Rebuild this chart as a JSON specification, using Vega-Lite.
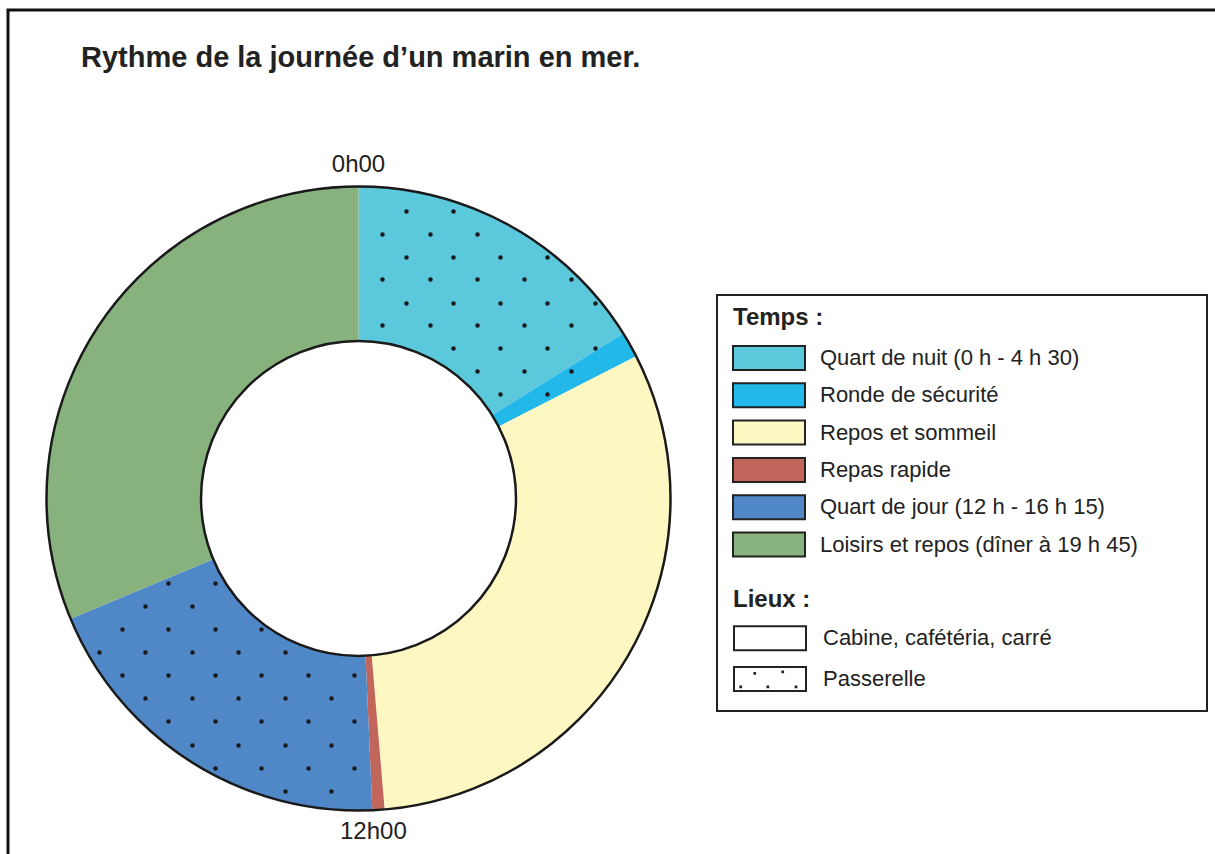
{
  "$schema": "https://vega.github.io/schema/vega-lite/v6.json",
  "width": 1210,
  "height": 847,
  "autosize": {"type": "none"},
  "padding": {"left": 8, "top": 10, "right": -3, "bottom": -3},
  "background": "white",
  "config": {
    "view": {"stroke": "#111111", "strokeWidth": 3},
    "font": "Liberation Sans",
    "legend": {"strokeWidth": 2}
  },
  "title": {
    "text": "Rythme de la journée d’un marin en mer.",
    "anchor": "start",
    "frame": "group",
    "orient": "top",
    "offset": 0,
    "dx": 73,
    "dy": 86,
    "baseline": "alphabetic",
    "font": "Liberation Sans",
    "fontSize": 29,
    "fontWeight": "bold",
    "color": "#222222"
  },
  "datasets": {
    "segments": [
      {"temps": "Quart de nuit (0 h - 4 h 30)", "ordre": 1, "duree": 3.87},
      {"temps": "Ronde de sécurité", "ordre": 2, "duree": 0.32},
      {"temps": "Repos et sommeil", "ordre": 3, "duree": 7.49},
      {"temps": "Repas rapide", "ordre": 4, "duree": 0.15},
      {"temps": "Quart de jour (12 h - 16 h 15)", "ordre": 5, "duree": 4.66},
      {"temps": "Loisirs et repos (dîner à 19 h 45)", "ordre": 6, "duree": 7.51}
    ],
    "lieux": [
      {"lieu": "Cabine, cafétéria, carré"},
      {"lieu": "Passerelle"}
    ],
    "reperes": [
      {"label": "0h00", "heure": 0},
      {"label": "12h00", "heure": 11.83}
    ],
    "points": [
      {"u": 48, "v": 287}, {"u": 95, "v": 287},
      {"u": 24, "v": 264}, {"u": 72, "v": 264}, {"u": 119, "v": 264},
      {"u": 48, "v": 241}, {"u": 95, "v": 241}, {"u": 142, "v": 241}, {"u": 189, "v": 241},
      {"u": 24, "v": 219}, {"u": 72, "v": 219}, {"u": 119, "v": 219}, {"u": 166, "v": 219}, {"u": 213, "v": 219},
      {"u": 48, "v": 195}, {"u": 95, "v": 195}, {"u": 142, "v": 195}, {"u": 189, "v": 195}, {"u": 237, "v": 195},
      {"u": 24, "v": 173}, {"u": 72, "v": 173}, {"u": 119, "v": 173}, {"u": 166, "v": 173}, {"u": 213, "v": 173},
      {"u": 95, "v": 150}, {"u": 142, "v": 150}, {"u": 189, "v": 150}, {"u": 237, "v": 150},
      {"u": 119, "v": 127}, {"u": 166, "v": 127}, {"u": 213, "v": 127},
      {"u": 142, "v": 104}, {"u": 189, "v": 104},
      {"u": -190, "v": -85}, {"u": -143, "v": -85},
      {"u": -213, "v": -108}, {"u": -166, "v": -108},
      {"u": -236, "v": -131}, {"u": -190, "v": -131}, {"u": -143, "v": -131}, {"u": -97, "v": -131},
      {"u": -259, "v": -154}, {"u": -213, "v": -154}, {"u": -166, "v": -154}, {"u": -120, "v": -154}, {"u": -73, "v": -154},
      {"u": -236, "v": -177}, {"u": -190, "v": -177}, {"u": -143, "v": -177}, {"u": -97, "v": -177}, {"u": -50, "v": -177}, {"u": -4, "v": -177},
      {"u": -213, "v": -200}, {"u": -166, "v": -200}, {"u": -120, "v": -200}, {"u": -73, "v": -200}, {"u": -27, "v": -200},
      {"u": -190, "v": -223}, {"u": -143, "v": -223}, {"u": -97, "v": -223}, {"u": -50, "v": -223}, {"u": -4, "v": -223},
      {"u": -166, "v": -247}, {"u": -120, "v": -247}, {"u": -73, "v": -247}, {"u": -27, "v": -247},
      {"u": -143, "v": -270}, {"u": -97, "v": -270}, {"u": -50, "v": -270}, {"u": -4, "v": -270},
      {"u": -73, "v": -293}, {"u": -27, "v": -293}
    ]
  },
  "layer": [
    {
      "data": {"name": "segments"},
      "mark": {"type": "arc", "outerRadius": 312, "innerRadius": 157.5},
      "encoding": {
        "x": {"datum": 0, "type": "quantitative", "scale": {"domain": [-350.5, 859.5], "nice": false, "zero": false}, "axis": null},
        "y": {"datum": 0, "type": "quantitative", "scale": {"domain": [-358.5, 488.5], "nice": false, "zero": false}, "axis": null},
        "theta": {"field": "duree", "type": "quantitative", "stack": true, "scale": {"domain": [0, 24]}},
        "order": {"field": "ordre", "type": "quantitative"},
        "color": {
          "field": "temps",
          "type": "nominal",
          "scale": {
            "domain": ["Quart de nuit (0 h - 4 h 30)", "Ronde de sécurité", "Repos et sommeil", "Repas rapide", "Quart de jour (12 h - 16 h 15)", "Loisirs et repos (dîner à 19 h 45)"],
            "range": ["#5bc8dc", "#22b8ea", "#fdf8c2", "#c2665c", "#4f87c7", "#87b27e"]
          },
          "legend": {
            "title": "Temps :",
            "orient": "none",
            "legendX": 725,
            "legendY": 296,
            "padding": 0,
            "titleFont": "Liberation Sans",
            "titleFontSize": 24,
            "titleFontWeight": "bold",
            "titleColor": "#222222",
            "titlePadding": 15,
            "titleLimit": 600,
            "labelFont": "Liberation Sans",
            "labelFontSize": 22,
            "labelColor": "#222222",
            "labelLimit": 600,
            "labelOffset": 38,
            "symbolType": "M-3,-1H3V1H-3Z",
            "symbolSize": 576,
            "symbolStrokeColor": "#222222",
            "symbolStrokeWidth": 2,
            "symbolOffset": 23,
            "symbolOpacity": 1,
            "rowPadding": 5.3
          }
        }
      }
    },
    {
      "data": {"name": "lieux"},
      "mark": {"type": "point", "filled": false, "size": 0, "color": "#222222", "strokeWidth": 2},
      "encoding": {
        "shape": {
          "field": "lieu",
          "type": "nominal",
          "scale": {
            "domain": ["Cabine, cafétéria, carré", "Passerelle"],
            "range": ["M-3,-1H3V1H-3Z", "M-3,-1H3V1H-3Z M-1.3,-0.49h0.06v0.06h-0.06Z M1.03,-0.63h0.06v0.06h-0.06Z M-2.47,0.62h0.06v0.06h-0.06Z M-0.21,0.62h0.06v0.06h-0.06Z M2.14,0.62h0.06v0.06h-0.06Z"]
          },
          "legend": {
            "title": ["\u200b", "Lieux :                                                         \u200b"],
            "orient": "none",
            "legendX": 709,
            "legendY": 285,
            "padding": 16,
            "strokeColor": "#222222",
            "titleFont": "Liberation Sans",
            "titleFontSize": 24,
            "titleFontWeight": "bold",
            "titleColor": "#222222",
            "titleLineHeight": 277.2,
            "titlePadding": 13,
            "titleLimit": 0,
            "labelFont": "Liberation Sans",
            "labelFontSize": 22,
            "labelColor": "#222222",
            "labelLimit": 600,
            "labelOffset": 40,
            "symbolSize": 576,
            "symbolStrokeColor": "#222222",
            "symbolStrokeWidth": 2,
            "symbolFillColor": "#ffffff",
            "symbolOffset": 24,
            "symbolOpacity": 1,
            "rowPadding": 8.8
          }
        }
      }
    },
    {
      "data": {"name": "points"},
      "mark": {"type": "point", "shape": "circle", "filled": true, "size": 20, "color": "#1a1a1a", "opacity": 1},
      "encoding": {
        "x": {"field": "u", "type": "quantitative", "scale": {"domain": [-350.5, 859.5], "nice": false, "zero": false}, "axis": null},
        "y": {"field": "v", "type": "quantitative", "scale": {"domain": [-358.5, 488.5], "nice": false, "zero": false}, "axis": null}
      }
    },
    {
      "data": {"name": "segments"},
      "mark": {"type": "arc", "outerRadius": 312, "innerRadius": 157.5, "filled": false, "stroke": "#1a1a1a", "strokeWidth": 2.5},
      "encoding": {
        "x": {"datum": 0, "type": "quantitative", "scale": {"domain": [-350.5, 859.5], "nice": false, "zero": false}, "axis": null},
        "y": {"datum": 0, "type": "quantitative", "scale": {"domain": [-358.5, 488.5], "nice": false, "zero": false}, "axis": null},
        "theta": {"aggregate": "sum", "field": "duree", "type": "quantitative", "stack": true, "scale": {"domain": [0, 24]}}
      }
    },
    {
      "data": {"name": "reperes"},
      "mark": {"type": "text", "radius": 334, "font": "Liberation Sans", "fontSize": 24, "color": "#222222", "align": "center", "baseline": "middle"},
      "encoding": {
        "x": {"datum": 0, "type": "quantitative", "scale": {"domain": [-350.5, 859.5], "nice": false, "zero": false}, "axis": null},
        "y": {"datum": 0, "type": "quantitative", "scale": {"domain": [-358.5, 488.5], "nice": false, "zero": false}, "axis": null},
        "theta": {"field": "heure", "type": "quantitative", "stack": false, "scale": {"domain": [0, 24]}},
        "text": {"field": "label", "type": "nominal"}
      }
    }
  ]
}
